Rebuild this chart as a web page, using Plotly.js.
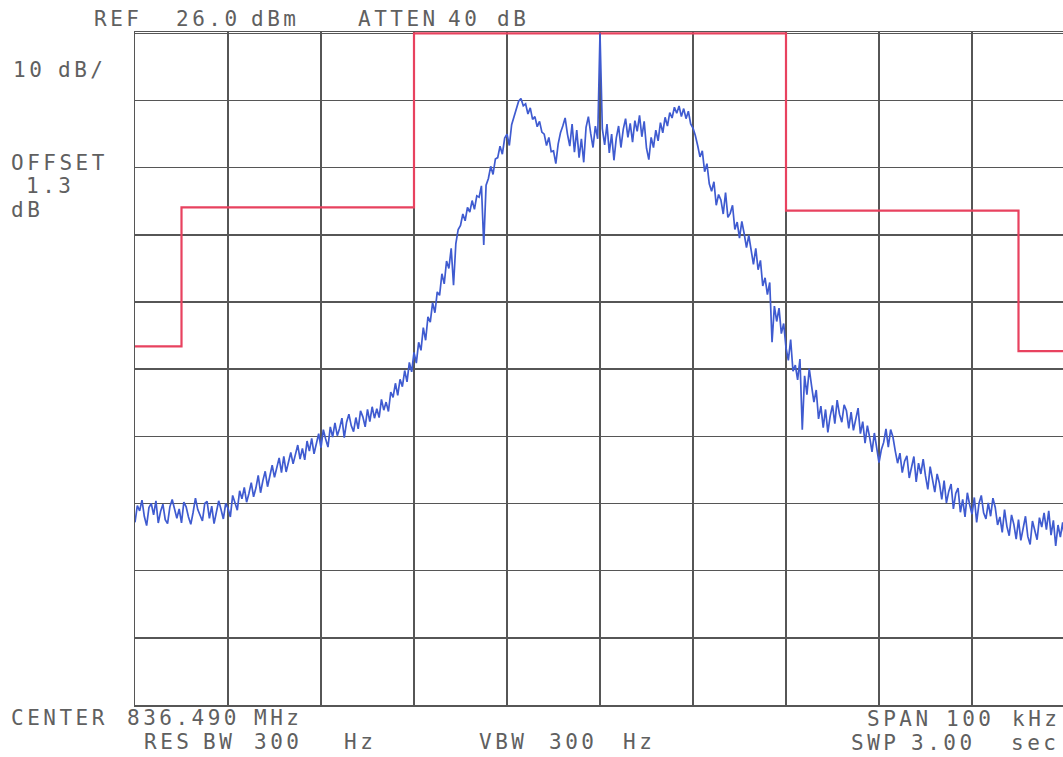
<!DOCTYPE html>
<html>
<head>
<meta charset="utf-8">
<script src="https://cdn.plot.ly/plotly-3.0.1.min.js"></script>
<style>
  html, body { margin: 0; padding: 0; background: #ffffff; overflow: hidden; }
  #chart { width: 1065px; height: 757px; }
  .annotation-text { letter-spacing: 3.5px; }
</style>
</head>
<body>
<div id="chart"></div>
<script>
// Spectrum trace: frequency offset from centre (kHz), starting at -50 kHz, 0.25 kHz per sample
const traceStartKHz = -50;
const traceStepKHz = 0.25;
const traceLevelDBm = [
  -46.8, -44.3, -45.1, -43.5,   // -50
  -45.9, -47.3, -44.6, -44.0,   // -49
  -45.7, -43.6, -46.9, -45.2,   // -48
  -44.1, -46.4, -47.0, -44.5,   // -47
  -43.4, -45.0, -46.2, -44.8,   // -46
  -46.9, -43.8, -44.5, -46.0,   // -45
  -47.1, -45.3, -43.2, -44.9,   // -44
  -45.8, -46.6, -44.0, -43.7,   // -43
  -46.2, -44.4, -47.0, -45.1,   // -42
  -43.6, -44.9, -46.3, -44.0,   // -41
  -44.7, -46.0, -42.8, -43.9,   // -40
  -45.0, -42.1, -43.3, -41.6,   // -39
  -43.8, -42.5, -40.9, -43.0,   // -38
  -41.7, -39.8, -42.4, -40.6,   // -37
  -39.2, -41.5, -40.0, -38.3,   // -36
  -40.1, -38.7, -37.2, -39.4,   // -35
  -37.0, -39.3, -37.9, -36.4,   // -34
  -38.1, -36.6, -35.3, -37.4,   // -33
  -35.8, -37.5, -34.7, -36.2,   // -32
  -34.3, -36.6, -35.1, -33.6,   // -31
  -35.7, -33.0, -34.4, -35.6,   // -30
  -32.6, -34.1, -32.0, -33.9,   // -29
  -32.8, -31.3, -34.2, -31.9,   // -28
  -30.7, -32.4, -33.3, -31.2,   // -27
  -32.9, -30.2, -31.1, -32.6,   // -26
  -30.0, -31.8, -29.6, -31.3,   // -25
  -29.9, -31.2, -28.5, -30.1,   // -24
  -28.9, -30.3, -27.4, -28.2,   // -23
  -26.1, -27.9, -25.5, -26.6,   // -22
  -24.2, -25.9, -23.0, -24.4,   // -21
  -21.5, -23.1, -20.0, -21.2,   // -20
  -17.8, -19.7, -16.2, -17.0,   // -19
  -14.1, -15.6, -12.5, -13.0,   // -18
   -9.8, -11.3,  -7.9,  -9.0,   // -17
   -6.0, -11.5,  -5.3,  -3.2,   // -16
   -2.6,  -0.9,  -1.9,   0.1,   // -15
   -0.6,   1.1,  -0.2,   1.8,   // -14
    1.6,   3.3,  -5.5,   3.4,   // -13
    4.4,   6.2,   5.0,   7.3,   // -12
    7.5,   9.2,   8.0,  10.4,   // -11
   11.0,   9.3,  12.4,  13.6,   // -10
   14.6,  15.9,  16.3,  15.2,   // -9
   15.5,  14.0,  14.9,  13.2,   // -8
   13.6,  12.1,  12.9,  11.3,   // -7
   11.0,   9.3,  10.5,   8.4,   // -6
    8.5,   6.6,   9.5,  11.2,   // -5
   12.2,  13.4,  11.0,   9.2,   // -4
   12.5,   8.3,  11.6,   7.5,   // -3
   10.3,   6.8,  12.0,  13.6,   // -2
   11.1,   9.0,  12.2,  10.3,   // -1
   26.0,  11.8,   9.4,  12.5,   // 0
    8.2,  11.0,   7.1,  10.4,   // 1
   12.2,   9.0,  11.7,  13.3,   // 2
   10.5,  12.6,   9.8,  13.0,   // 3
   11.4,  13.8,  10.6,  12.9,   // 4
    8.9,   7.2,  10.5,   9.0,   // 5
   11.6,  10.0,  12.7,  11.2,   // 6
   13.5,  12.2,  14.2,  13.4,   // 7
   15.0,  14.1,  15.2,  13.6,   // 8
   14.8,  13.3,  14.4,  12.5,   // 9
   11.9,  10.8,   9.3,   7.6,   // 10
    8.5,   5.4,   6.6,   3.6,   // 11
    2.5,   3.9,   0.4,   2.0,   // 12
    1.2,  -0.9,   2.3,  -1.4,   // 13
   -0.8,   0.4,  -3.2,  -2.1,   // 14
   -4.5,  -2.0,  -3.8,  -5.9,   // 15
   -4.1,  -6.6,  -8.4,  -6.0,   // 16
   -9.2,  -7.8, -11.6, -10.4,   // 17
  -12.9, -11.1, -20.0, -14.6,   // 18
  -16.9, -14.9, -18.7, -17.2,   // 19
  -20.8, -22.7, -19.6, -24.3,   // 20
  -23.4, -25.6, -22.5, -33.0,   // 21
  -25.0, -27.8, -23.9, -26.5,   // 22
  -28.9, -27.1, -31.4, -29.5,   // 23
  -32.7, -30.0, -33.4, -31.0,   // 24
  -29.4, -32.1, -28.6, -30.7,   // 25
  -31.9, -29.3, -30.2, -32.8,   // 26
  -30.4, -33.1, -31.2, -29.8,   // 27
  -33.6, -31.8, -35.0, -32.4,   // 28
  -34.2, -36.3, -33.5, -35.5,   // 29
  -37.9, -36.0, -34.9, -32.9,   // 30
  -35.6, -33.0, -34.1, -36.2,   // 31
  -38.0, -36.5, -39.4, -37.7,   // 32
  -36.9, -40.2, -38.3, -37.0,   // 33
  -40.8, -38.0, -39.6, -37.4,   // 34
  -39.9, -41.9, -38.5, -40.7,   // 35
  -42.3, -39.6, -41.0, -43.4,   // 36
  -40.6, -43.9, -42.2, -41.1,   // 37
  -44.8, -42.5, -41.7, -45.3,   // 38
  -43.4, -46.0, -42.4, -44.2,   // 39
  -45.6, -43.1, -46.8, -44.0,   // 40
  -42.8, -45.4, -46.3, -43.9,   // 41
  -45.9, -43.2, -44.6, -47.2,   // 42
  -46.0, -48.3, -44.9, -47.4,   // 43
  -48.8, -45.7, -47.1, -49.3,   // 44
  -46.4, -49.5, -47.8, -45.9,   // 45
  -48.9, -50.1, -46.6, -48.2,   // 46
  -49.4, -46.1, -47.5, -45.4,   // 47
  -47.9, -45.1, -48.7, -46.5,   // 48
  -50.3, -47.2, -49.0, -46.8,   // 49
  -49.8                         // 50
];

// Limit mask (kHz offset, dBm)
const maskFreqKHz = [-50, -45, -45, -20, -20, 20, 20, 45, 45, 50];
const maskLevelDBm = [-20.6, -20.6, 0.1, 0.1, 26, 26, -0.4, -0.4, -21.3, -21.3];

// Screen annotation words [text, left px, centre px]
const labelWords = [
  ['REF', 93, 19], ['26.0', 175, 19], ['dBm', 250, 19],
  ['ATTEN', 357, 19], ['40', 447, 19], ['dB', 496, 19],
  ['10', 12, 70], ['dB/', 57, 70],
  ['OFFSET', 10, 163], ['1.3', 25, 186], ['dB', 10, 210],
  ['CENTER', 10, 718], ['836.490', 126, 718], ['MHz', 253, 718],
  ['RES', 143, 742], ['BW', 202, 742], ['300', 253, 742], ['Hz', 343, 742],
  ['VBW', 478, 742], ['300', 548, 742], ['Hz', 622, 742],
  ['SPAN', 866, 719], ['100', 945, 719], ['kHz', 1011, 719],
  ['SWP', 850, 743], ['3.00', 910, 743], ['sec', 1010, 743]
];

const W = 1065, H = 757;
const M = { l: 135, r: 0, t: 32, b: 52 };
const pw = W - M.l - M.r, ph = H - M.t - M.b;

const annotations = labelWords.map(([txt, px, py]) => ({
  text: txt,
  xref: 'paper', yref: 'paper',
  x: (px - M.l) / pw, y: (H - M.b - py) / ph,
  xanchor: 'left', yanchor: 'middle', align: 'left',
  showarrow: false, borderpad: 0,
  font: { family: 'DejaVu Sans Mono', size: 21, color: '#606060' }
}));

const data = [
  {
    type: 'scatter', mode: 'lines',
    x: maskFreqKHz, y: maskLevelDBm,
    line: { color: '#e8425f', width: 2.2 },
    hoverinfo: 'skip'
  },
  {
    type: 'scatter', mode: 'lines',
    x0: traceStartKHz, dx: traceStepKHz, y: traceLevelDBm,
    line: { color: '#3f5bd0', width: 1.7 },
    hoverinfo: 'skip'
  }
];

const gridColor = '#565656';
const layout = {
  width: W, height: H,
  margin: M,
  paper_bgcolor: '#ffffff', plot_bgcolor: '#ffffff',
  showlegend: false,
  xaxis: {
    range: [-50, 50], tick0: -50, dtick: 10,
    showgrid: true, gridcolor: gridColor, gridwidth: 1.5,
    zeroline: false, showticklabels: false, ticks: '',
    showline: true, linecolor: gridColor, linewidth: 1.5, mirror: true,
    layer: 'below traces', fixedrange: true
  },
  yaxis: {
    range: [-74, 26.2], tick0: -74, dtick: 10,
    showgrid: true, gridcolor: gridColor, gridwidth: 1.5,
    zeroline: false, showticklabels: false, ticks: '',
    showline: true, linecolor: gridColor, linewidth: 1.5, mirror: true,
    layer: 'below traces', fixedrange: true
  },
  annotations: annotations
};

Plotly.newPlot('chart', data, layout, { staticPlot: true, displayModeBar: false });
</script>
</body>
</html>
